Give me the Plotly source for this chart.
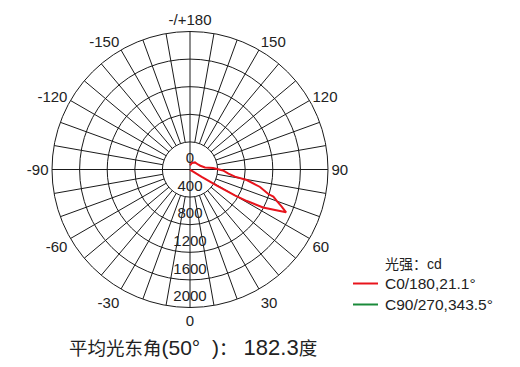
import plotly.graph_objects as go

# ---- data ----
c0_theta = [0, 20, 40, 55, 58, 59, 60, 61, 62.5, 64.5, 66, 68, 70, 72, 72.6, 76, 79.5, 81,
            84, 88.3, 93.7, 97.6, 110, 122, 145, 163, 180]
c0_cd = [0, 0, 0, 20, 200, 455, 750, 943, 1193, 1365, 1525, 1430, 1341, 1270, 1189, 1046, 836, 660,
         560, 478, 334, 219, 160, 137, 125, 99, 60]

c90_theta = [0, 90, 180, 270]
c90_cd = [0, 0, 0, 0]

radial_ticks = [0, 400, 800, 1200, 1600, 2000]
angle_ticks = [0, 30, 60, 90, 120, 150, 180, 210, 240, 270, 300, 330]
angle_labels = ["0", "30", "60", "90", "120", "150", "-/+180", "-150", "-120", "-90", "-60", "-30"]

legend_title = "光强：cd"
series_names = ["C0/180,21.1°", "C90/270,343.5°"]
series_colors = ["#e8141c", "#1a8a3a"]
footer = ('平均光东角<span style="font-size:21px">(50°  )</span>：'
          '<span style="font-size:22px"> 182.3</span>度')

RMAX = 2000
GRID = "#1a1a1a"
FONT = "Arial, Liberation Sans, Noto Sans CJK SC, sans-serif"

# page offset of the plot div (browser default body margin)
OFF = 8

fig = go.Figure()

# spokes every 10 degrees (from first ring outward, axes through centre)
sp_t, sp_r = [], []
for a in range(0, 360, 10):
    r0 = 0 if a % 90 == 0 else radial_ticks[1]
    sp_t += [a, a, None]
    sp_r += [r0, RMAX, None]
fig.add_trace(go.Scatterpolar(theta=sp_t, r=sp_r, mode="lines",
                              line=dict(color=GRID, width=1), hoverinfo="skip",
                              showlegend=False))

# radial labels along the 0-degree direction
off = 145
lab_t = [180] + [0] * (len(radial_ticks) - 1)
lab_r = [off] + [v - off for v in radial_ticks[1:]]
fig.add_trace(go.Scatterpolar(theta=lab_t, r=lab_r, mode="text",
                              text=[str(v) for v in radial_ticks],
                              textfont=dict(family=FONT, size=15, color="#222"),
                              hoverinfo="skip", showlegend=False))

fig.add_trace(go.Scatterpolar(theta=c90_theta, r=c90_cd, mode="lines",
                              line=dict(color=series_colors[1], width=2),
                              name=series_names[1], showlegend=False))
fig.add_trace(go.Scatterpolar(theta=c0_theta, r=c0_cd, mode="lines",
                              line=dict(color=series_colors[0], width=2),
                              name=series_names[0], showlegend=False))

W, H = 520, 367
cx, cy, R = 190 - OFF, 169.5 - OFF, 138
fig.update_layout(
    width=W, height=H,
    margin=dict(l=0, r=0, t=0, b=0),
    paper_bgcolor="white",
    font=dict(family=FONT, color="#222"),
    polar=dict(
        domain=dict(x=[(cx - R) / W, (cx + R) / W], y=[(H - cy - R) / H, (H - cy + R) / H]),
        bgcolor="white",
        radialaxis=dict(range=[0, RMAX], tickvals=radial_ticks[1:], showticklabels=False,
                        ticks="", showline=False, showgrid=True, gridcolor=GRID, gridwidth=1),
        angularaxis=dict(rotation=-90, direction="counterclockwise", tickvals=angle_ticks,
                         ticktext=angle_labels, ticks="", ticklen=0, showgrid=False,
                         showline=True, linecolor=GRID, linewidth=1,
                         tickfont=dict(family=FONT, size=15, color="#222")),
    ),
)

def px(x):
    return (x - OFF) / W

def py(y):
    return 1 - (y - OFF) / H

# manual legend
lx0, lx1, tx = 353, 378, 383
fig.add_annotation(x=px(tx), y=py(264), xref="paper", yref="paper", text=legend_title,
                   showarrow=False, xanchor="left", yanchor="middle",
                   font=dict(family=FONT, size=14, color="#222"))
for i, (nm, col) in enumerate(zip(series_names, series_colors)):
    yy = 283.5 + i * 21
    fig.add_shape(type="line", xref="paper", yref="paper", x0=px(lx0), x1=px(lx1),
                  y0=py(yy), y1=py(yy), line=dict(color=col, width=2))
    fig.add_annotation(x=px(tx), y=py(yy), xref="paper", yref="paper", text=nm,
                       showarrow=False, xanchor="left", yanchor="middle",
                       font=dict(family=FONT, size=15.5, color="#222"))

fig.add_annotation(x=px(67), y=py(347), xref="paper", yref="paper", text=footer,
                   showarrow=False, xanchor="left", yanchor="middle",
                   font=dict(family=FONT, size=18.5, color="#222"))

fig.write_html("out.html")
